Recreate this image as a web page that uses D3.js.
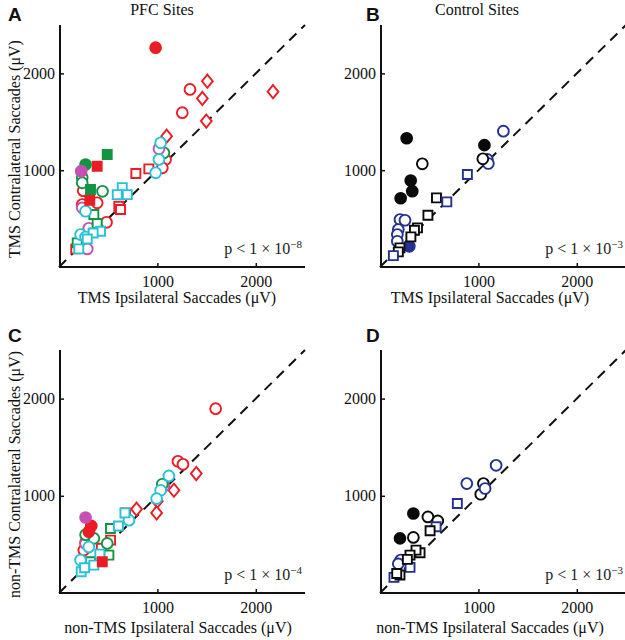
<!DOCTYPE html>
<html><head><meta charset="utf-8">
<script src="https://cdn.jsdelivr.net/npm/d3@7"></script>
<style>body{margin:0;background:#fff}svg{display:block}</style>
</head><body><svg id="c" width="625" height="640"></svg>
<script>
// ---- tick labels ----
const xTicks = [1000, 2000];
const yTicks = [1000, 2000];
const axisMax = 2500;

// ---- Panel A: PFC sites, TMS ----
const aRedOpenCircle = [[1331,1834],[1253,1594],[1083,1110],[1050,1025],[246,788],[388,663],[483,462],[236,645],[303,387]];
const aRedDiamond = [[1508,1920],[1457,1741],[1497,1507],[2175,1811],[1094,1352]];
const aRedOpenSquare = [[781,966],[913,1014],[608,628],[625,594],[170,187]];
const aCyanOpenSquare = [[643,820],[592,748],[694,748],[422,369],[347,352],[287,290],[201,187]];
const aCyanOpenCircle = [[1033,1283],[1016,1111],[982,973],[270,576],[219,335],[270,310]];
const aMagentaOpenCircle = [[1016,1221],[236,611],[287,187],[303,400]];
const aGreenOpenCircle = [[1066,1180],[236,924],[236,870],[442,782]];
const aGreenOpenSquare = [[354,542],[388,449],[185,249]];
const aRedFilledCircle = [[982,2266]];
const aRedFilledSquare = [[388,1041],[313,690]];
const aGreenFilledSquare = [[490,1162],[320,800]];
const aGreenFilledCircle = [[270,1059]];
const aMagentaFilledCircle = [[226,990]];

// ---- Panel B: Control sites, TMS ----
const bBlueOpenCircle = [[1254,1403],[1091,1111],[1101,1069],[203,490],[254,483],[186,387],[176,335],[176,266]];
const bBlueFilledCircle = [[298,214]];
const bBlueOpenSquare = [[888,955],[679,673],[136,118]];
const bBlackOpenSquare = [[574,714],[487,535],[381,404],[350,380],[314,311],[203,198],[186,156]];
const bBlackOpenCircle = [[430,1066],[1045,1118]];
const bBlackFilledCircle = [[271,1330],[1061,1259],[312,893],[328,783],[210,710]];

// ---- Panel C: PFC sites, non-TMS ----
const cRedOpenCircle = [[1592,1896],[1209,1355],[1260,1324],[252,441],[270,520]];
const cRedDiamond = [[1395,1229],[1168,1057],[999,944],[992,824],[788,862]];
const cRedOpenSquare = [[677,824],[524,544],[430,460]];
const cCyanOpenCircle = [[1117,1204],[1033,1057],[992,971],[711,749],[303,474],[219,339]];
const cCyanOpenSquare = [[670,824],[604,690],[415,400],[354,287],[226,219],[260,260]];
const cGreenOpenCircle = [[1050,1119],[354,562],[490,510],[270,600]];
const cGreenOpenSquare = [[523,664],[507,390],[320,321]];
const cMagentaOpenCircle = [[1066,1099],[270,508]];
const cRedFilledSquare = [[440,321]];
const cRedFilledCircle = [[328,690],[303,630]];
const cMagentaFilledCircle = [[270,777]];

// ---- Panel D: Control sites, non-TMS ----
const dBlueOpenCircle = [[1180,1314],[882,1126],[1068,1075],[211,339],[186,300]];
const dBlueOpenSquare = [[786,921],[570,681],[305,264],[142,161]];
const dBlackOpenSquare = [[509,640],[407,414],[366,441],[305,390],[278,346],[203,185],[170,200]];
const dBlackOpenCircle = [[1051,1126],[1024,1016],[487,783],[587,742],[339,572]];
const dBlackFilledCircle = [[339,818],[203,562]];

const pText = ["−8","−3","−4","−3"];

const C = {red:"#ec1c24", green:"#129443", cyan:"#27c2d8", magenta:"#c84fb4", blue:"#24318f", black:"#0a0a0a"};
const SERIF = "font-family:'Liberation Serif','Times New Roman',Times,serif";
const SANS = "font-family:'Liberation Sans',Arial,Helvetica,sans-serif";

const panels = [
  {letter:"A", title:"PFC Sites", xl:"TMS Ipsilateral Saccades (μV)", yl:"TMS Contralateral Saccades (μV)",
   xr:[59,305], yr:[267,25], p:pText[0], tx:162, lx:177, ly:303, series:[
    [aRedOpenSquare,"square","red",false],[aRedOpenCircle,"circle","red",false],[aRedDiamond,"diamond","red",false],
    [aGreenOpenCircle,"circle","green",false],[aMagentaOpenCircle,"circle","magenta",false],[aGreenOpenSquare,"square","green",false],
    [aCyanOpenCircle,"circle","cyan",false],[aCyanOpenSquare,"square","cyan",false],
    [aRedFilledCircle,"circle","red",true],[aRedFilledSquare,"square","red",true],[aGreenFilledSquare,"square","green",true],
    [aGreenFilledCircle,"circle","green",true],[aMagentaFilledCircle,"circle","magenta",true]]},
  {letter:"B", title:"Control Sites", xl:"TMS Ipsilateral Saccades (μV)", yl:null,
   xr:[380,626], yr:[267,25], p:pText[1], tx:477, lx:490, ly:303, series:[
    [bBlueOpenCircle,"circle","blue",false],[bBlueFilledCircle,"circle","blue",true],[bBlackOpenSquare,"square","black",false],
    [bBlueOpenSquare,"square","blue",false],[bBlackOpenCircle,"circle","black",false],[bBlackFilledCircle,"circle","black",true]]},
  {letter:"C", title:null, xl:"non-TMS Ipsilateral Saccades (μV)", yl:"non-TMS Contralateral Saccades (μV)",
   xr:[59,305], yr:[593,350], p:pText[2], tx:0, lx:178, ly:633, series:[
    [cRedOpenSquare,"square","red",false],[cRedOpenCircle,"circle","red",false],[cRedDiamond,"diamond","red",false],
    [cMagentaOpenCircle,"circle","magenta",false],[cGreenOpenCircle,"circle","green",false],[cGreenOpenSquare,"square","green",false],
    [cCyanOpenCircle,"circle","cyan",false],[cCyanOpenSquare,"square","cyan",false],
    [cRedFilledSquare,"square","red",true],[cRedFilledCircle,"circle","red",true],[cMagentaFilledCircle,"circle","magenta",true]]},
  {letter:"D", title:null, xl:"non-TMS Ipsilateral Saccades (μV)", yl:null,
   xr:[380,626], yr:[593,350], p:pText[3], tx:0, lx:490, ly:633, series:[
    [dBlackOpenCircle,"circle","black",false],[dBlueOpenCircle,"circle","blue",false],[dBlackFilledCircle,"circle","black",true],
    [dBlueOpenSquare,"square","blue",false],[dBlackOpenSquare,"square","black",false]]}
];

const svg = d3.select("#c");

panels.forEach((P, i) => {
  const x = d3.scaleLinear().domain([0, axisMax]).range(P.xr);
  const y = d3.scaleLinear().domain([0, axisMax]).range(P.yr);
  const g = svg.append("g");
  const x0 = P.xr[0] + 1, y0 = P.yr[0];

  // diagonal unity line
  g.append("line").attr("x1", x(0)).attr("y1", y(0)).attr("x2", x(axisMax)).attr("y2", y(axisMax))
    .attr("stroke", "#111").attr("stroke-width", 2).attr("stroke-dasharray", "10,7");

  // axes
  const xa = g.append("g").attr("transform", `translate(0,${y0})`)
    .call(d3.axisBottom(x).tickValues(xTicks).tickSize(-4).tickPadding(9).tickSizeOuter(0).tickFormat(d3.format("d")));
  const ya = g.append("g").attr("transform", `translate(${x0},0)`)
    .call(d3.axisLeft(y).tickValues(yTicks).tickSize(-4).tickPadding(5).tickSizeOuter(0).tickFormat(d3.format("d")));
  [xa, ya].forEach(a => {
    a.select(".domain").attr("stroke", "#111").attr("stroke-width", 2);
    a.selectAll(".tick line").attr("stroke", "#111").attr("stroke-width", 1.5);
    a.selectAll(".tick text").attr("font-size", 16).attr("fill", "#111").attr("style", SERIF);
  });
  ya.select(".domain").attr("d", `M0,${P.yr[0]}V${P.yr[1]}`);
  xa.select(".domain").attr("d", `M${P.xr[0]},0H${P.xr[1]}`);

  // markers
  P.series.forEach(([data, shape, col, filled]) => {
    const color = C[col];
    g.append("g").selectAll("path").data(data).join("path")
      .attr("transform", d => `translate(${x(d[0])},${y(d[1])})`)
      .attr("d", shape === "circle" ? "M5.4,0A5.4,5.4 0 1,1 -5.4,0A5.4,5.4 0 1,1 5.4,0Z"
                : shape === "square" ? "M-4.5,-4.5H4.5V4.5H-4.5Z"
                : "M0,-6.6L5.4,0L0,6.6L-5.4,0Z")
      .attr("fill", filled ? color : "#fff")
      .attr("stroke", color).attr("stroke-width", 1.9);
  });

  // p-value
  const pt = g.append("text").attr("x", P.xr[0] + 243).attr("y", y0 - 13)
    .attr("text-anchor", "end").attr("font-size", 16).attr("fill", "#222").attr("style", SERIF);
  pt.append("tspan").text("p < 1 × 10");
  pt.append("tspan").attr("dy", -6).attr("font-size", 11).text(P.p);

  // title
  if (P.title) g.append("text").attr("x", P.tx).attr("y", 15).attr("style", SERIF)
    .attr("text-anchor", "middle").attr("font-size", 16).attr("fill", "#111").text(P.title);

  // x label
  g.append("text").attr("x", P.lx).attr("y", P.ly).attr("style", SERIF)
    .attr("text-anchor", "middle").attr("font-size", 16).attr("fill", "#111").text(P.xl);

  // y label
  if (P.yl) g.append("text").attr("transform", `translate(20,${(P.yr[0] + P.yr[1]) / 2 + 3}) rotate(-90)`)
    .attr("style", SERIF).attr("text-anchor", "middle").attr("font-size", 16).attr("fill", "#111").text(P.yl);

  // panel letter
  svg.append("text").attr("x", i % 2 === 0 ? 8 : 366).attr("y", i < 2 ? 21 : 342).attr("style", SANS)
    .attr("font-weight", "bold").attr("font-size", 19).attr("fill", "#111").text(P.letter);
});
</script></body></html>
